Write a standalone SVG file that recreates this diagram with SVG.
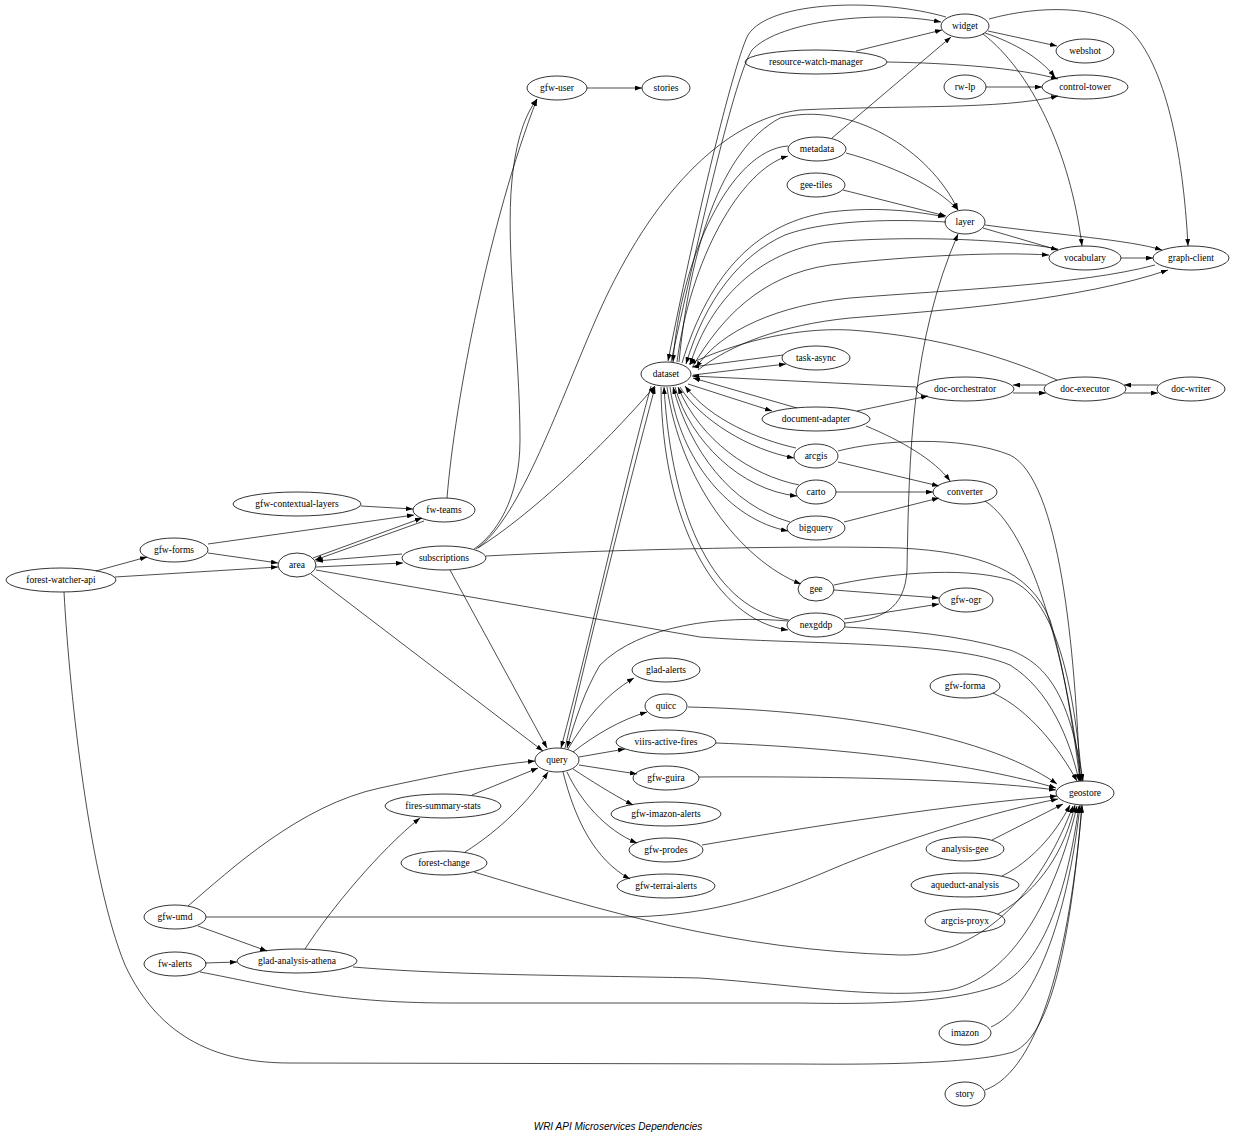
<svg xmlns="http://www.w3.org/2000/svg" width="1250" height="1138" viewBox="0 0 1250 1138">
<style>
.node ellipse{fill:none;stroke:#000;stroke-width:0.8}
.node text{font-family:"Liberation Serif","Times New Roman",serif;font-size:9.5px;text-anchor:middle;fill:#000}
#edges path{fill:none;stroke:#000;stroke-width:0.7;marker-end:url(#a)}
.title{font-family:"Liberation Sans",Arial,sans-serif;font-style:italic;font-size:10px;text-anchor:middle}
</style>
<defs>
<marker id="a" viewBox="0 0 10 7" refX="10" refY="3.5" markerWidth="7" markerHeight="5" orient="auto" markerUnits="userSpaceOnUse"><path d="M0,0 L10,3.5 L0,7 z" fill="#000"/></marker>
</defs>
<rect width="1250" height="1138" fill="#fff"/>
<g id="edges">
<path d="M988,31 L1057,46"/>
<path d="M985,33 C1015,43 1040,58 1055,77"/>
<path d="M856,51 L942,30"/>
<path d="M887,62 C950,63 1020,68 1058,79"/>
<path d="M986,87 L1042,87"/>
<path d="M983,34 C1030,70 1070,150 1082,246"/>
<path d="M989,19 C1040,5 1100,5 1130,30 C1165,65 1183,150 1188,246"/>
<path d="M832,138 L951,37"/>
<path d="M846,153 C890,165 935,185 958,210"/>
<path d="M843,190 L946,216"/>
<path d="M983,228 L1058,250"/>
<path d="M985,225 C1060,235 1130,240 1162,250"/>
<path d="M1121,258 L1153,258"/>
<path d="M946,17 C880,-2 770,0 748,35 C735,60 700,200 668,361"/>
<path d="M671,362 C700,230 735,75 752,50 C780,20 880,10 941,22"/>
<path d="M788,146 C730,150 680,260 673,362"/>
<path d="M677,362 C690,260 740,170 788,156"/>
<path d="M476,549 C520,520 560,400 600,310 C650,200 720,120 800,110 C900,105 1000,110 1058,96"/>
<path d="M679,362 C690,250 720,150 780,118 C850,100 930,150 958,210"/>
<path d="M682,363 C710,270 760,222 830,212 C880,206 920,212 945,217"/>
<path d="M946,222 C880,218 820,222 785,235 C740,255 705,300 686,364"/>
<path d="M1058,249 C1000,238 900,236 830,242 C760,250 710,300 690,365"/>
<path d="M693,366 C720,320 760,275 830,265 C920,255 1000,252 1049,255"/>
<path d="M1155,265 C1080,285 950,290 850,298 C780,305 720,330 696,368"/>
<path d="M698,370 C730,345 780,325 850,318 C950,310 1080,300 1168,270"/>
<path d="M1057,380 C990,350 920,335 850,330 C790,327 730,345 689,364"/>
<path d="M783,355 L692,367"/>
<path d="M693,375 L786,364"/>
<path d="M916,387 L692,376"/>
<path d="M797,408 L693,378"/>
<path d="M688,384 L772,411"/>
<path d="M1046,385 L1013,385"/>
<path d="M1013,393 L1046,393"/>
<path d="M1158,385 L1124,385"/>
<path d="M1124,393 L1158,393"/>
<path d="M857,411 L928,396"/>
<path d="M866,426 C900,440 935,460 950,481"/>
<path d="M796,448 C760,440 710,420 685,386"/>
<path d="M680,387 C700,420 750,450 794,458"/>
<path d="M838,462 L939,486"/>
<path d="M838,451 C880,440 960,435 1010,455 C1060,480 1075,650 1080,781"/>
<path d="M799,485 C750,475 700,440 678,387"/>
<path d="M675,387 C690,440 740,490 797,496"/>
<path d="M836,492 L933,492"/>
<path d="M790,522 C730,505 690,450 673,387"/>
<path d="M670,387 C680,460 730,520 788,531"/>
<path d="M844,522 L939,498"/>
<path d="M985,501 C1030,530 1065,650 1081,781"/>
<path d="M667,387 C680,480 740,560 801,584"/>
<path d="M834,590 L939,598"/>
<path d="M834,585 C880,575 960,565 1010,580 C1060,600 1075,700 1082,781"/>
<path d="M789,620 C715,610 672,520 664,387"/>
<path d="M661,387 C662,520 715,620 788,630"/>
<path d="M844,619 L939,604"/>
<path d="M845,623 C880,620 905,610 907,570 C909,450 912,340 958,234"/>
<path d="M845,627 C900,630 960,635 1010,650 C1050,665 1070,700 1083,781"/>
<path d="M788,621 C720,615 640,625 600,665 C585,690 575,720 567,748"/>
<path d="M565,748 C590,640 625,500 655,387"/>
<path d="M651,386 C620,500 590,640 561,748"/>
<path d="M568,749 C585,720 605,695 634,678"/>
<path d="M573,752 C595,735 620,720 647,712"/>
<path d="M579,757 L625,749"/>
<path d="M579,765 L637,774"/>
<path d="M573,769 C590,780 610,793 633,805"/>
<path d="M567,772 C580,800 605,830 637,843"/>
<path d="M563,772 C575,820 595,860 630,879"/>
<path d="M311,574 L543,751"/>
<path d="M450,570 L547,748"/>
<path d="M472,795 L538,768"/>
<path d="M465,852 C500,830 530,800 548,772"/>
<path d="M188,906 C230,870 300,805 380,788 C440,775 490,765 535,761"/>
<path d="M688,707 C820,710 980,730 1057,784"/>
<path d="M716,743 C850,748 980,765 1056,788"/>
<path d="M699,777 C850,776 980,780 1056,790"/>
<path d="M702,845 C820,825 950,805 1057,796"/>
<path d="M993,693 C1030,710 1060,750 1077,781"/>
<path d="M992,840 L1063,804"/>
<path d="M1002,876 C1030,862 1055,835 1070,805"/>
<path d="M998,914 C1040,890 1065,850 1075,805"/>
<path d="M991,1027 C1040,1005 1070,900 1080,805"/>
<path d="M985,1090 C1040,1070 1070,950 1082,805"/>
<path d="M206,917 L620,917 C700,917 760,900 830,870 C900,840 1000,810 1058,799"/>
<path d="M474,872 C600,910 730,950 900,955 C990,957 1045,880 1073,806"/>
<path d="M353,967 C450,975 550,975 700,978 C800,985 880,1000 950,990 C1020,975 1060,880 1077,806"/>
<path d="M200,972 C270,985 330,1003 450,1003 L800,1003 C900,1005 960,1000 1000,985 C1050,960 1070,870 1079,806"/>
<path d="M64,592 C70,700 90,880 125,965 C160,1040 220,1063 290,1063 L800,1064 C900,1065 980,1062 1013,1052 C1055,1035 1072,920 1082,806"/>
<path d="M316,570 L700,637 C800,645 950,640 1010,665 C1050,690 1070,740 1079,781"/>
<path d="M486,556 C600,550 800,545 900,548 C980,552 1030,570 1050,620 C1065,670 1075,740 1080,781"/>
<path d="M316,567 L403,563"/>
<path d="M402,554 L316,561"/>
<path d="M313,558 L422,518"/>
<path d="M424,521 L315,560"/>
<path d="M208,544 L414,515"/>
<path d="M208,553 L278,563"/>
<path d="M361,506 L413,509"/>
<path d="M96,571 L147,557"/>
<path d="M115,577 L278,567"/>
<path d="M447,498 C455,400 490,220 537,99"/>
<path d="M474,549 C495,535 520,500 520,440 C520,350 505,250 512,180 C516,140 525,115 537,99"/>
<path d="M478,548 C530,515 600,450 655,386"/>
<path d="M587,88 L642,88"/>
<path d="M305,949 C330,910 380,850 420,818"/>
<path d="M198,926 L267,951"/>
<path d="M205,963 L237,962"/>
</g>
<g id="widget" class="node"><ellipse cx="965" cy="26" rx="24" ry="12"/><text x="965" y="29">widget</text></g>
<g id="webshot" class="node"><ellipse cx="1085" cy="51" rx="29" ry="12"/><text x="1085" y="54">webshot</text></g>
<g id="resource-watch-manager" class="node"><ellipse cx="816" cy="62" rx="71" ry="12"/><text x="816" y="65">resource-watch-manager</text></g>
<g id="control-tower" class="node"><ellipse cx="1085" cy="87" rx="43" ry="12"/><text x="1085" y="90">control-tower</text></g>
<g id="rw-lp" class="node"><ellipse cx="965" cy="87" rx="21" ry="12"/><text x="965" y="90">rw-lp</text></g>
<g id="gfw-user" class="node"><ellipse cx="557" cy="88" rx="30" ry="12"/><text x="557" y="91">gfw-user</text></g>
<g id="stories" class="node"><ellipse cx="666" cy="88" rx="24" ry="12"/><text x="666" y="91">stories</text></g>
<g id="metadata" class="node"><ellipse cx="817" cy="149" rx="29" ry="12"/><text x="817" y="152">metadata</text></g>
<g id="gee-tiles" class="node"><ellipse cx="816" cy="185" rx="29" ry="12"/><text x="816" y="188">gee-tiles</text></g>
<g id="layer" class="node"><ellipse cx="965" cy="222" rx="20" ry="12"/><text x="965" y="225">layer</text></g>
<g id="vocabulary" class="node"><ellipse cx="1085" cy="258" rx="36" ry="12"/><text x="1085" y="261">vocabulary</text></g>
<g id="graph-client" class="node"><ellipse cx="1191" cy="258" rx="38" ry="12"/><text x="1191" y="261">graph-client</text></g>
<g id="task-async" class="node"><ellipse cx="816" cy="358" rx="34" ry="12"/><text x="816" y="361">task-async</text></g>
<g id="dataset" class="node"><ellipse cx="666" cy="374" rx="25" ry="12"/><text x="666" y="377">dataset</text></g>
<g id="doc-orchestrator" class="node"><ellipse cx="965" cy="389" rx="49" ry="12"/><text x="965" y="392">doc-orchestrator</text></g>
<g id="doc-executor" class="node"><ellipse cx="1085" cy="389" rx="41" ry="12"/><text x="1085" y="392">doc-executor</text></g>
<g id="doc-writer" class="node"><ellipse cx="1191" cy="389" rx="34" ry="12"/><text x="1191" y="392">doc-writer</text></g>
<g id="document-adapter" class="node"><ellipse cx="816" cy="419" rx="54" ry="12"/><text x="816" y="422">document-adapter</text></g>
<g id="arcgis" class="node"><ellipse cx="816" cy="456" rx="22" ry="12"/><text x="816" y="459">arcgis</text></g>
<g id="carto" class="node"><ellipse cx="816" cy="492" rx="20" ry="12"/><text x="816" y="495">carto</text></g>
<g id="converter" class="node"><ellipse cx="965" cy="492" rx="32" ry="12"/><text x="965" y="495">converter</text></g>
<g id="bigquery" class="node"><ellipse cx="816" cy="528" rx="29" ry="12"/><text x="816" y="531">bigquery</text></g>
<g id="gee" class="node"><ellipse cx="816" cy="589" rx="18" ry="12"/><text x="816" y="592">gee</text></g>
<g id="gfw-ogr" class="node"><ellipse cx="966" cy="600" rx="27" ry="12"/><text x="966" y="603">gfw-ogr</text></g>
<g id="nexgddp" class="node"><ellipse cx="816" cy="625" rx="29" ry="12"/><text x="816" y="628">nexgddp</text></g>
<g id="gfw-contextual-layers" class="node"><ellipse cx="297" cy="504" rx="64" ry="12"/><text x="297" y="507">gfw-contextual-layers</text></g>
<g id="fw-teams" class="node"><ellipse cx="444" cy="510" rx="31" ry="12"/><text x="444" y="513">fw-teams</text></g>
<g id="gfw-forms" class="node"><ellipse cx="174" cy="550" rx="34" ry="12"/><text x="174" y="553">gfw-forms</text></g>
<g id="subscriptions" class="node"><ellipse cx="444" cy="558" rx="42" ry="12"/><text x="444" y="561">subscriptions</text></g>
<g id="area" class="node"><ellipse cx="297" cy="565" rx="19" ry="12"/><text x="297" y="568">area</text></g>
<g id="forest-watcher-api" class="node"><ellipse cx="61" cy="580" rx="55" ry="12"/><text x="61" y="583">forest-watcher-api</text></g>
<g id="glad-alerts" class="node"><ellipse cx="666" cy="670" rx="34" ry="12"/><text x="666" y="673">glad-alerts</text></g>
<g id="gfw-forma" class="node"><ellipse cx="965" cy="686" rx="35" ry="12"/><text x="965" y="689">gfw-forma</text></g>
<g id="quicc" class="node"><ellipse cx="666" cy="706" rx="21" ry="12"/><text x="666" y="709">quicc</text></g>
<g id="viirs-active-fires" class="node"><ellipse cx="666" cy="742" rx="50" ry="12"/><text x="666" y="745">viirs-active-fires</text></g>
<g id="query" class="node"><ellipse cx="557" cy="760" rx="22" ry="12"/><text x="557" y="763">query</text></g>
<g id="gfw-guira" class="node"><ellipse cx="666" cy="778" rx="33" ry="12"/><text x="666" y="781">gfw-guira</text></g>
<g id="geostore" class="node"><ellipse cx="1085" cy="793" rx="29" ry="12"/><text x="1085" y="796">geostore</text></g>
<g id="fires-summary-stats" class="node"><ellipse cx="443" cy="806" rx="58" ry="12"/><text x="443" y="809">fires-summary-stats</text></g>
<g id="gfw-imazon-alerts" class="node"><ellipse cx="666" cy="814" rx="55" ry="12"/><text x="666" y="817">gfw-imazon-alerts</text></g>
<g id="analysis-gee" class="node"><ellipse cx="965" cy="849" rx="39" ry="12"/><text x="965" y="852">analysis-gee</text></g>
<g id="gfw-prodes" class="node"><ellipse cx="666" cy="850" rx="37" ry="12"/><text x="666" y="853">gfw-prodes</text></g>
<g id="forest-change" class="node"><ellipse cx="444" cy="863" rx="43" ry="12"/><text x="444" y="866">forest-change</text></g>
<g id="aqueduct-analysis" class="node"><ellipse cx="965" cy="885" rx="54" ry="12"/><text x="965" y="888">aqueduct-analysis</text></g>
<g id="gfw-terrai-alerts" class="node"><ellipse cx="666" cy="886" rx="49" ry="12"/><text x="666" y="889">gfw-terrai-alerts</text></g>
<g id="gfw-umd" class="node"><ellipse cx="175" cy="917" rx="31" ry="12"/><text x="175" y="920">gfw-umd</text></g>
<g id="argcis-proyx" class="node"><ellipse cx="965" cy="921" rx="40" ry="12"/><text x="965" y="924">argcis-proyx</text></g>
<g id="glad-analysis-athena" class="node"><ellipse cx="297" cy="961" rx="60" ry="12"/><text x="297" y="964">glad-analysis-athena</text></g>
<g id="fw-alerts" class="node"><ellipse cx="175" cy="964" rx="31" ry="12"/><text x="175" y="967">fw-alerts</text></g>
<g id="imazon" class="node"><ellipse cx="965" cy="1033" rx="26" ry="12"/><text x="965" y="1036">imazon</text></g>
<g id="story" class="node"><ellipse cx="965" cy="1094" rx="20" ry="12"/><text x="965" y="1097">story</text></g>
<text class="title" x="618" y="1130">WRI API Microservices Dependencies</text>
</svg>
